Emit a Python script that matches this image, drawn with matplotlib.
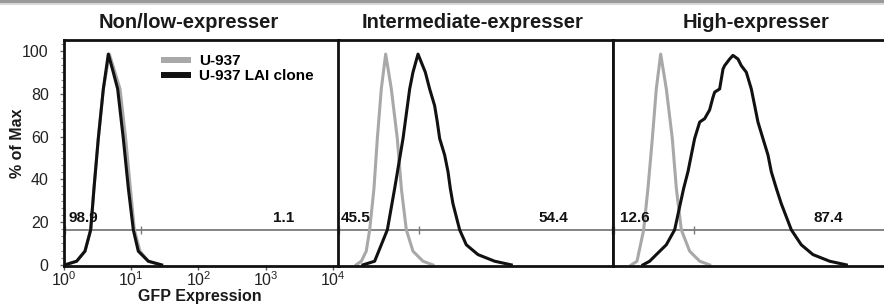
import numpy as np
import matplotlib
matplotlib.use("Agg")
import matplotlib.pyplot as plt
from matplotlib.lines import Line2D
from matplotlib.patches import Rectangle
from matplotlib.ticker import FixedLocator, MultipleLocator, NullLocator

plt.rcParams['font.family'] = ['Liberation Sans', 'DejaVu Sans']
plt.rcParams['mathtext.fontset'] = 'custom'
plt.rcParams['mathtext.rm'] = 'Liberation Sans'
plt.rcParams['mathtext.default'] = 'regular'

# ---------------- data (x in log10 GFP units, y in % of max) ----------------
titles = ["Non/low-expresser", "Intermediate-expresser", "High-expresser"]
series_names = ["U-937", "U-937 LAI clone"]
left_pct = ["98.9", "45.5", "12.6"]
right_pct = ["1.1", "54.4", "87.4"]
gate_level = 16.4
gate_split_log = [1.145, 1.204, 1.204]
xtick_exp = [0, 1, 2, 3, 4]
ytick_vals = [0, 20, 40, 60, 80, 100]

p1_gray_x = [0.015, 0.188, 0.312, 0.397, 0.446, 0.51, 0.585, 0.674, 0.758, 0.833, 0.917, 0.987, 1.046, 1.13, 1.254, 1.43]
p1_gray_y = [0, 1.7, 6.4, 16.4, 35.8, 59.1, 82.3, 98.6, 90.1, 82.3, 59.1, 35.8, 16.4, 6.4, 1.7, 0]
p1_black_x = [0.015, 0.188, 0.312, 0.397, 0.446, 0.51, 0.585, 0.659, 0.733, 0.798, 0.882, 0.957, 1.031, 1.105, 1.254, 1.452]
p1_black_y = [0, 1.7, 6.4, 16.4, 35.8, 59.1, 82.3, 98.6, 90.1, 82.3, 59.1, 35.8, 16.4, 6.4, 1.7, 0]

p2_gray_x = [0.27, 0.347, 0.42, 0.471, 0.535, 0.585, 0.644, 0.709, 0.753, 0.793, 0.882, 0.942, 1.016, 1.115, 1.264, 1.41]
p2_gray_y = [0, 1.7, 6.4, 16.4, 35.8, 59.1, 82.3, 98.6, 90.1, 82.3, 59.1, 35.8, 16.4, 6.4, 1.7, 0]
p2_black_x = [0.372, 0.545, 0.644, 0.734, 0.843, 0.967, 1.066, 1.115, 1.19, 1.299, 1.363, 1.437, 1.477, 1.512,
              1.586, 1.636, 1.67, 1.71, 1.809, 1.908, 2.082, 2.33, 2.577]
p2_black_y = [0, 1.7, 9.4, 16.4, 35.8, 59.1, 82.3, 90.1, 98.6, 90.1, 82.3, 74.5, 66.8, 59.1,
              51.4, 43.6, 35.8, 28.6, 16.4, 9.4, 4.8, 1.7, 0]

p3_gray_x = [0.273, 0.357, 0.456, 0.52, 0.585, 0.644, 0.709, 0.753, 0.793, 0.882, 0.942, 1.016, 1.14, 1.29, 1.437]
p3_gray_y = [0, 1.7, 16.4, 35.8, 59.1, 82.3, 98.6, 90.1, 82.3, 59.1, 35.8, 16.4, 6.4, 1.7, 0]
p3_black_x = [0.446, 0.545, 0.644, 0.793, 0.917, 1.001, 1.051, 1.115, 1.214, 1.289, 1.363, 1.437, 1.487, 1.512,
              1.586, 1.636, 1.66, 1.735, 1.784, 1.859, 1.908, 1.983, 2.057, 2.107, 2.156, 2.23, 2.305, 2.354,
              2.429, 2.503, 2.652, 2.80, 2.974, 3.222, 3.47]
p3_black_y = [0, 1.7, 4.8, 9.4, 16.4, 28.6, 35.8, 43.6, 59.1, 66.8, 68.4, 72.5, 78.4, 80.8,
              82.3, 91.6, 93.2, 96.3, 98.0, 96.3, 93.2, 90.1, 82.3, 74.5, 66.8, 59.1, 51.4, 43.6,
              35.8, 28.6, 16.4, 9.4, 4.8, 1.7, 0]

panels = [
    (p1_gray_x, p1_gray_y, p1_black_x, p1_black_y),
    (p2_gray_x, p2_gray_y, p2_black_x, p2_black_y),
    (p3_gray_x, p3_gray_y, p3_black_x, p3_black_y),
]

# ---------------- layout ----------------
W, H = 884, 305
fig = plt.figure(figsize=(W / 100, H / 100), dpi=100)
fig.patch.set_facecolor('white')

# thin grey strip at very top (screenshot border)
fig.patches.append(Rectangle((0, 1 - 3 / H), 1, 3 / H, transform=fig.transFigure,
                             facecolor='#9a9a9a', edgecolor='none', zorder=0))
fig.patches.append(Rectangle((0, 1 - 5 / H), 1, 2 / H, transform=fig.transFigure,
                             facecolor='#d8d8d8', edgecolor='none', zorder=0))

lefts_px = [64, 338, 613]
width_px = 275
top_px, bottom_px = 40, 265.5
x_lo, x_hi = 1.0, 10 ** 4.09
y_lo, y_hi = -0.3, 105.2

GRAY = '#a8a8a8'
GATE = '#7a7a7a'

axes = []
for i, (gx, gy, bx, by) in enumerate(panels):
    ax = fig.add_axes([lefts_px[i] / W, (H - bottom_px) / H, width_px / W, (bottom_px - top_px) / H])
    axes.append(ax)
    ax.set_xscale('log')
    ax.set_xlim(x_lo, x_hi)
    ax.set_ylim(y_lo, y_hi)
    for s in ax.spines.values():
        s.set_linewidth(2.0)
        s.set_color('#111111')

    # gate
    ax.axhline(gate_level, color=GATE, lw=1.3, zorder=1)
    ax.plot([x_lo * 1.02, 10 ** gate_split_log[i], x_hi / 1.02], [gate_level] * 3,
            ls='none', marker='|', ms=6, mew=1.0, color=GATE, zorder=1)

    # histograms
    ax.plot(10 ** np.array(gx), gy, color=GRAY, lw=2.2, zorder=2, solid_joinstyle='round')
    ax.plot(10 ** np.array(bx), by, color='#111111', lw=2.2, zorder=3, solid_joinstyle='round')

    # percent labels
    ax.text(10 ** [0.06, 0.045, 0.10][i], 18.6, left_pct[i], fontsize=11, fontweight='bold',
            ha='left', va='bottom', color='#111111', zorder=5)
    ax.text(10 ** [3.26, 3.21, 3.20][i], 18.6, right_pct[i], fontsize=11, fontweight='bold',
            ha='center', va='bottom', color='#111111', zorder=5)

    if i == 0:
        ax.xaxis.set_major_locator(FixedLocator([10.0 ** e for e in xtick_exp]))
        ax.set_xticklabels([f'$10^{{{e}}}$' for e in xtick_exp])
        ax.xaxis.set_minor_locator(NullLocator())
        ax.tick_params(axis='x', which='major', length=3, width=1, color='#555555',
                       labelsize=11.5, pad=0.5, labelcolor='#222222')
        ax.yaxis.set_major_locator(FixedLocator(ytick_vals))
        ax.yaxis.set_minor_locator(MultipleLocator(20 / 6))
        ax.tick_params(axis='y', which='major', length=3, width=1, color='#666666',
                       labelsize=11.5, pad=8, labelcolor='#222222')
        ax.tick_params(axis='y', which='minor', length=2, width=0.8, color='#888888')
    else:
        ax.set_xticks([])
        ax.set_yticks([])
        ax.xaxis.set_minor_locator(NullLocator())
        ax.yaxis.set_minor_locator(NullLocator())

# titles
title_x = [189, 473, 756]
for t, x in zip(titles, title_x):
    fig.text(x / W, 1 - 23 / H, t, fontsize=14.5, fontweight='bold', ha='center', va='center',
             color='#1a1a1a')

# axis labels
fig.text(17 / W, 1 - 143 / H, '% of Max', rotation=90, fontsize=11.5, fontweight='bold',
         ha='center', va='center', color='#1a1a1a')
fig.text(200 / W, 1 - 297 / H, 'GFP Expression', fontsize=11.5, fontweight='bold',
         ha='center', va='center', color='#1a1a1a')

# legend
handles = [Line2D([], [], color=GRAY, lw=4.3, solid_capstyle='butt'),
           Line2D([], [], color='#111111', lw=4.3, solid_capstyle='butt')]
axes[0].legend(handles, series_names, loc='upper left',
               bbox_to_anchor=(160.5 / W, 1 - 54 / H), bbox_transform=fig.transFigure,
               frameon=False, prop={'weight': 'bold', 'size': 11},
               handlelength=2.0, handletextpad=0.55, labelspacing=0.08,
               borderpad=0, borderaxespad=0)

fig.savefig('out.png', dpi=100)
